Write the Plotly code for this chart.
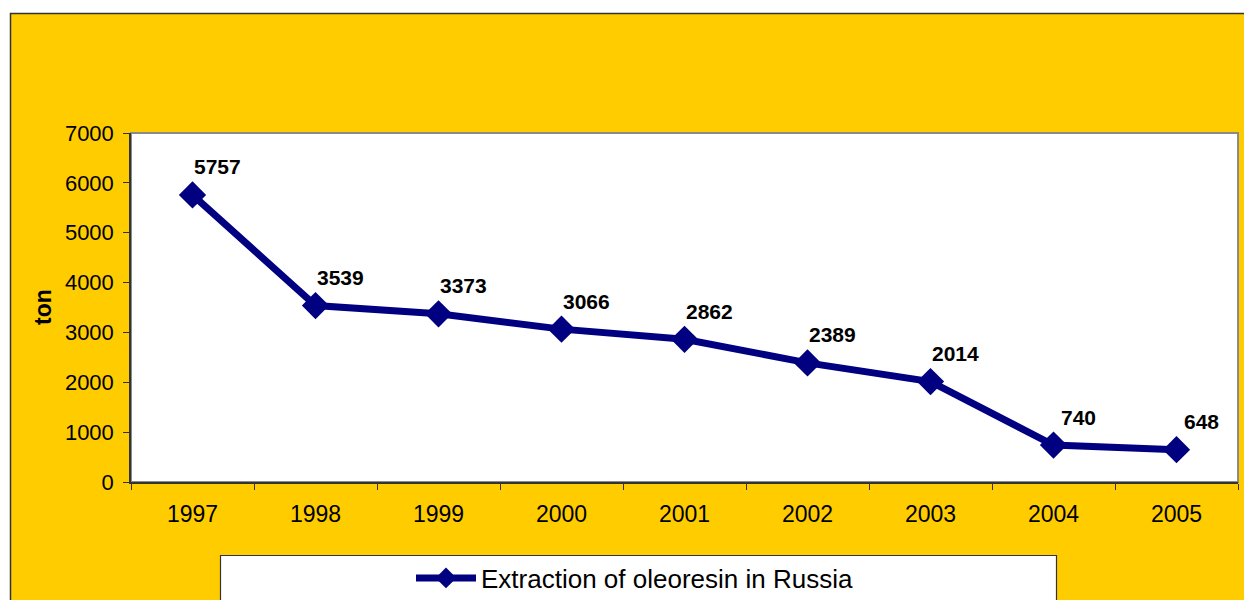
import plotly.graph_objects as go

years = ["1997", "1998", "1999", "2000", "2001", "2002", "2003", "2004", "2005"]
extraction = [5757, 3539, 3373, 3066, 2862, 2389, 2014, 740, 648]
y_ticks = [0, 1000, 2000, 3000, 4000, 5000, 6000, 7000]
series_name = "Extraction of oleoresin in Russia"
y_title = "ton"

W, H = 1244, 600
L, R, T, B = 131, 1238, 133, 482
PW, PH = R - L, B - T


def px2x(p):
    return (p - L) / PW


def py2y(p):
    return (B - p) / PH


FONT = "Liberation Sans, Arial, sans-serif"
NAVY = "#000080"
YELLOW = "#FFCC00"

fig = go.Figure()
fig.add_trace(go.Scatter(
    x=years, y=extraction, mode="lines+markers", name=series_name,
    line=dict(color=NAVY, width=7),
    marker=dict(symbol="diamond", size=21, color=NAVY),
    showlegend=True,
))

annotations = []
for i, v in enumerate(extraction):
    annotations.append(dict(
        x=i, y=v, xref="x", yref="y", text="<b>%d</b>" % v, showarrow=False,
        xshift=25, yshift=28, font=dict(family=FONT, size=21, color="black"),
    ))
annotations.append(dict(
    x=px2x(43), y=py2y(307), xref="paper", yref="paper", text="<b>%s</b>" % y_title,
    showarrow=False, textangle=-90, xanchor="center", yanchor="middle",
    font=dict(family=FONT, size=23, color="black"),
))

shapes = [
    dict(type="rect", xref="paper", yref="paper", layer="below",
         x0=px2x(10.5), x1=px2x(1260), y0=py2y(660), y1=py2y(13.5),
         fillcolor=YELLOW, line=dict(color="#333333", width=1.5)),
    dict(type="rect", xref="paper", yref="paper", layer="below",
         x0=0, x1=1, y0=0, y1=1,
         fillcolor="white", line=dict(color="#8a8a8a", width=2)),
    dict(type="rect", xref="paper", yref="paper", layer="below",
         x0=px2x(220.5), x1=px2x(1056.5), y0=py2y(660), y1=py2y(555.5),
         fillcolor="white", line=dict(color="#333333", width=1.2)),
]

fig.update_layout(
    width=W, height=H,
    margin=dict(l=L, r=W - R, t=T, b=H - B, pad=0, autoexpand=False),
    paper_bgcolor="white", plot_bgcolor="rgba(0,0,0,0)",
    font=dict(family=FONT, color="black"),
    shapes=shapes, annotations=annotations,
    showlegend=True,
    legend=dict(
        x=411 / W, y=1 - 578 / H, xanchor="left", yanchor="middle",
        xref="container", yref="container",
        bgcolor="rgba(0,0,0,0)", borderwidth=0,
        font=dict(family=FONT, size=26, color="black"),
        itemwidth=60,
    ),
    xaxis=dict(
        type="category", range=[-0.5, len(years) - 0.5],
        showline=True, linecolor="#333333", linewidth=1.5,
        ticks="outside", ticklen=6, tickcolor="#333333", tickwidth=1,
        tickson="boundaries", showgrid=False, zeroline=False,
        tickfont=dict(family=FONT, size=23, color="black"),
        ticklabelstandoff=11,
    ),
    yaxis=dict(
        range=[0, 7000], tickvals=y_ticks, ticktext=[str(t) for t in y_ticks],
        showline=True, linecolor="#333333", linewidth=1.5,
        ticks="outside", ticklen=6, tickcolor="#333333", tickwidth=1,
        showgrid=False, zeroline=False,
        tickfont=dict(family=FONT, size=22, color="black"),
        ticklabelstandoff=5,
    ),
)

fig.write_html("out.html")
